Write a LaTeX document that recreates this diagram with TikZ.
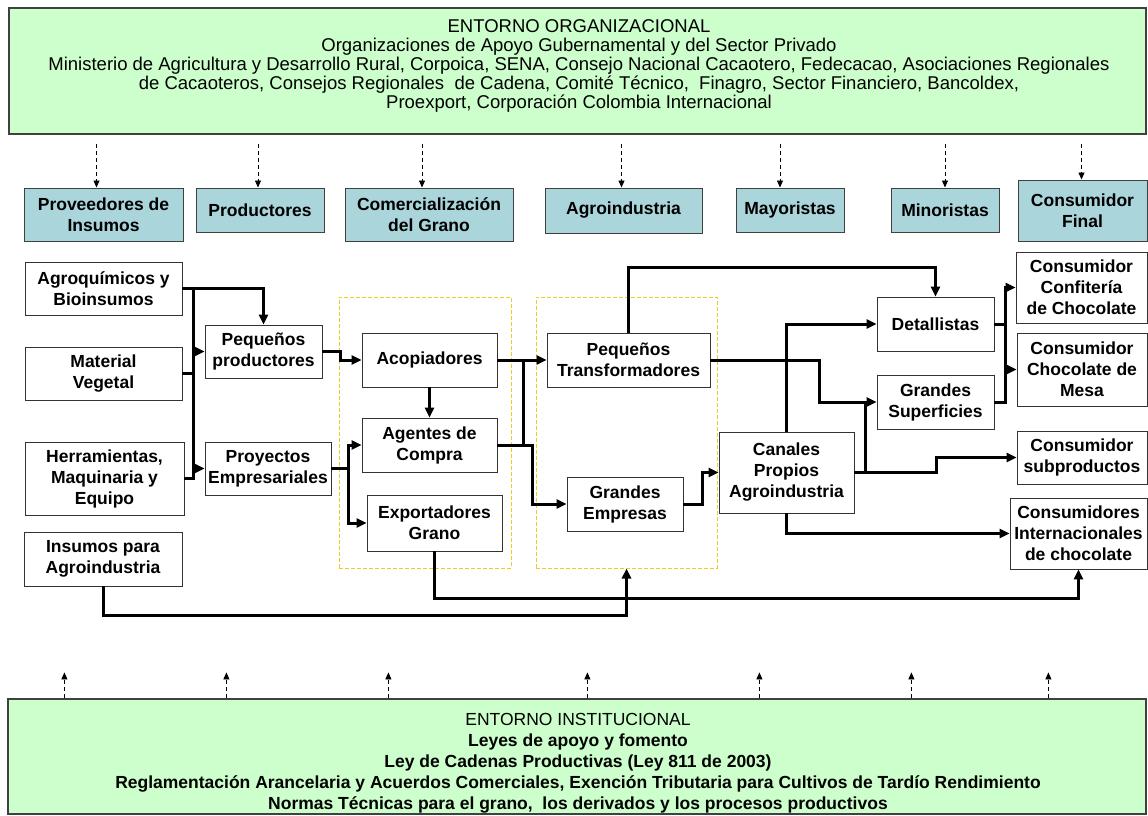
\documentclass[tikz,border=0pt]{standalone}
\usepackage{fontspec}
\setmainfont{Liberation Sans}
\usetikzlibrary{positioning,calc,arrows.meta}
\definecolor{verdeclaro}{RGB}{204,255,204}
\definecolor{azulgris}{RGB}{170,213,219}
\definecolor{amarillo}{RGB}{236,204,40}

\begin{document}
\begin{tikzpicture}[x=1pt,y=-1pt]
                    \tikzstyle{every node}=[inner sep=0,align=center,font=\fontsize{17.5}{21}\selectfont\bfseries]
                    \tikzstyle{actor}=[draw=black!80,fill=white,line width=0.9]
                    \tikzstyle{eslabon}=[draw=black!75,fill=azulgris,line width=1]
                    \tikzstyle{marco}=[draw=black!75,fill=verdeclaro,line width=1.2]
                    \tikzstyle{grupo}=[draw=amarillo,dash pattern=on 4pt off 2pt,line width=1]
                    \tikzstyle{linea}=[line width=3]
                    \tikzstyle{flujo}=[line width=3,-{Triangle[length=10pt,width=9pt]}]
                    \tikzstyle{apoyo}=[line width=0.8,dash pattern=on 4pt off 3pt,-{Triangle[length=7pt,width=6pt]}]
                    \useasboundingbox (0,0) rectangle (1148,816);
                    {
                        \node[marco,minimum width=1137,minimum height=126] (org) at (577.5,71) {};
                        \node[font=\fontsize{18.5}{19}\selectfont] (orgTxt) at (579,66) {ENTORNO ORGANIZACIONAL\\
                            Organizaciones de Apoyo Gubernamental y del Sector Privado\\
                            Ministerio de Agricultura y Desarrollo Rural, Corpoica, SENA, Consejo Nacional Cacaotero, Fedecacao, Asociaciones Regionales\\
                            de Cacaoteros, Consejos Regionales\ \ de Cadena, Comité Técnico,\ \ Finagro, Sector Financiero, Bancoldex,\\
                            Proexport, Corporación Colombia Internacional};
                        \node[marco,minimum width=1138,minimum height=115] (inst) at (577,756.5) {};
                        \node (instTxt) at (578,763) {{\mdseries ENTORNO INSTITUCIONAL}\\
                            Leyes de apoyo y fomento\\
                            Ley de Cadenas Productivas (Ley 811 de 2003)\\
                            Reglamentación Arancelaria y Acuerdos Comerciales, Exención Tributaria para Cultivos de Tardío Rendimiento\\
                            Normas Técnicas para el grano,\ \ los derivados y los procesos productivos};
                    }
                    {
                        \node[eslabon,minimum width=159,minimum height=53] (hProv) at (103.5,214.5) {Proveedores de\\Insumos};
                        \node[eslabon,minimum width=128,minimum height=44] (hProd) at (260,210) {Productores};
                        \node[eslabon,minimum width=168,minimum height=53] (hCom) at (429,214.5) {Comercialización\\del Grano};
                        \node[eslabon,minimum width=157,minimum height=45] (hAgro) at (623.5,210.5) {Agroindustria};
                        \node[eslabon,minimum width=108,minimum height=44] (hMay) at (790,210) {Mayoristas};
                        \node[eslabon,minimum width=108,minimum height=44] (hMin) at (945,210) {Minoristas};
                        \node[eslabon,minimum width=129,minimum height=61] (hCons) at (1082.5,210.5) {Consumidor\\Final};
                    }
                    {
                        \node[grupo,minimum width=172,minimum height=271] (comBox) at (425,432.5) {};
                        \node[grupo,minimum width=181,minimum height=271] (agBox) at (626.5,432.5) {};
                    }
                    {
                        \node[actor,minimum width=157,minimum height=53] (agro) at (103.5,288.5) {Agroquímicos y\\Bioinsumos};
                        \node[actor,minimum width=157,minimum height=53] (mat) at (103.5,373.5) {Material\\Vegetal};
                        \node[actor,minimum width=159,minimum height=73] (herr) at (104.5,478.5) {Herramientas,\\Maquinaria y\\Equipo};
                        \node[actor,minimum width=158,minimum height=54] (insA) at (103,559) {Insumos para\\Agroindustria};
                        \node[actor,minimum width=117,minimum height=53] (peqP) at (263.5,351.5) {Pequeños\\productores};
                        \node[actor,minimum width=126,minimum height=53] (proy) at (268,468.5) {Proyectos\\Empresariales};
                        \node[actor,minimum width=135,minimum height=54] (acop) at (429.5,360) {Acopiadores};
                        \node[actor,minimum width=135,minimum height=54] (agen) at (429.5,445) {Agentes de\\Compra};
                        \node[actor,minimum width=135,minimum height=56] (expo) at (434.5,523) {Exportadores\\Grano};
                        \node[actor,minimum width=163,minimum height=54] (peqT) at (628.5,360) {Pequeños\\Transformadores};
                        \node[actor,minimum width=116,minimum height=54] (grE) at (625,504) {Grandes\\Empresas};
                        \node[actor,minimum width=135,minimum height=81] (can) at (786.5,472.5) {Canales\\Propios\\Agroindustria};
                        \node[actor,minimum width=117,minimum height=54] (det) at (935.5,324) {Detallistas};
                        \node[actor,minimum width=117,minimum height=54] (grS) at (935.5,402) {Grandes\\Superficies};
                        \node[actor,minimum width=131,minimum height=71] (cConf) at (1081.5,287.5) {Consumidor\\Confitería\\de Chocolate};
                        \node[actor,minimum width=130,minimum height=73] (cMesa) at (1082,369.5) {Consumidor\\Chocolate de\\Mesa};
                        \node[actor,minimum width=130,minimum height=53] (cSub) at (1082,457.5) {Consumidor\\subproductos};
                        \node[actor,minimum width=137,minimum height=71] (cInt) at (1078.5,533.5) {Consumidores\\Internacionales\\de chocolate};
                    }
                    \foreach \h/\d in {hProv/-7,hProd/-2,hCom/-7,hAgro/-2,hMay/-10,hMin/0,hCons/-1}
                        \draw[apoyo,shorten <=9pt] (\h.north) ++(\d,0) coordinate (tip) (tip |- org.south) -- (tip);
                    \foreach \d in {57,219,381,580,752,904,1041}
                        \draw[apoyo] (inst.north west) ++(\d,0) -- ++(0,-26);
                    \draw[flujo] (agro.east) -| (peqP.north);
                    \draw[linea] (herr.east) -- ++(9,0) |- (agro.east);
                    \draw[linea] (mat.east) -- ++(11,0);
                    \draw[flujo] (peqP.west) ++(-12,0) -- (peqP.west);
                    \draw[flujo] (proy.west) ++(-12,0) -- (proy.west);
                    \draw[flujo] (peqP.east) -- ++(18,0) |- (acop.west);
                    \draw[flujo] (proy.east) -- ++(17,0) |- (agen.west);
                    \draw[flujo] (proy.east) -- ++(17,0) |- (expo.west);
                    \draw[flujo] (acop) -- (agen);
                    \draw[flujo] (acop) -- (peqT);
                    \draw[linea] (agen.east) ++(26,0) |- (acop.east);
                    \draw[flujo] (agen.east) -- ++(35,0) |- (grE.west);
                    \draw[flujo] (grE.east) -- ++(19,0) |- (can.west);
                    \draw[flujo] (peqT.north) -- ++(0,-65) -| (det.north);
                    \draw[flujo] (peqT.east) -- ++(109,0) |- (grS.west);
                    \draw[flujo] (can.north) |- (det.west);
                    \draw[flujo] (can.east) -- ++(82,0) |- (cSub.west);
                    \draw[linea] (can.east) ++(11,0) coordinate (jCan) -- (jCan |- grS.west);
                    \draw[flujo] (can.south) |- (cInt.west);
                    \draw[flujo] (det.east) -- ++(11,0) |- (cConf.west);
                    \draw[flujo] (grS.east) -- ++(11,0) |- (cMesa.west);
                    \draw[linea] (det.east) ++(11,0) coordinate (jDet) -- (jDet |- grS.east);
                    \draw[flujo] (expo.south) -- ++(0,47) -| (cInt.south);
                    \draw[flujo] (insA.south) -- ++(0,29) -| (agBox.south);
                \end{tikzpicture}
\end{document}
